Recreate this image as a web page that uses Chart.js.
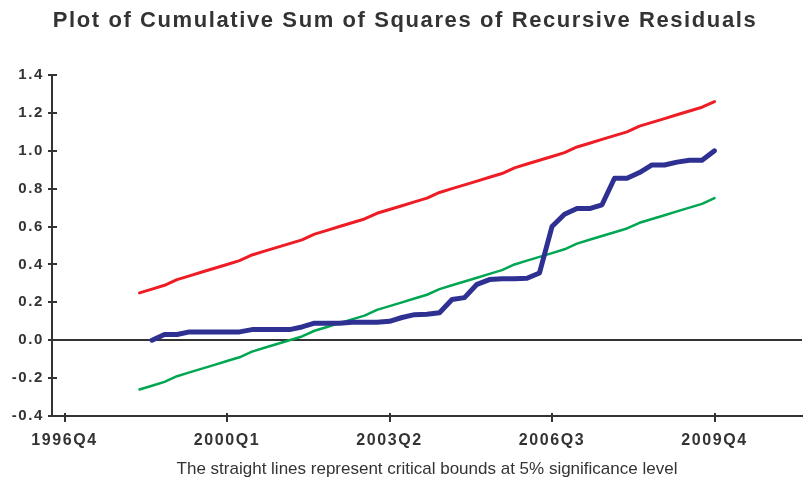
<!DOCTYPE html>
<html>
<head>
<meta charset="utf-8">
<script src="https://cdn.jsdelivr.net/npm/chart.js@4.4.1/dist/chart.umd.min.js"></script>
<style>
  html, body { margin: 0; padding: 0; background: #fff; overflow: hidden; }
  #wrap { width: 806px; height: 483px; position: relative; }
</style>
</head>
<body>
<div id="wrap"><canvas id="cusumsq"></canvas></div>
<script>
// ===== DATA =====
const quarters = [
  '1996Q3','1996Q4','1997Q1','1997Q2','1997Q3','1997Q4','1998Q1','1998Q2','1998Q3','1998Q4',
  '1999Q1','1999Q2','1999Q3','1999Q4','2000Q1','2000Q2','2000Q3','2000Q4','2001Q1','2001Q2',
  '2001Q3','2001Q4','2002Q1','2002Q2','2002Q3','2002Q4','2003Q1','2003Q2','2003Q3','2003Q4',
  '2004Q1','2004Q2','2004Q3','2004Q4','2005Q1','2005Q2','2005Q3','2005Q4','2006Q1','2006Q2',
  '2006Q3','2006Q4','2007Q1','2007Q2','2007Q3','2007Q4','2008Q1','2008Q2','2008Q3','2008Q4',
  '2009Q1','2009Q2','2009Q3','2009Q4','2010Q1','2010Q2','2010Q3','2010Q4','2011Q1','2011Q2',
  '2011Q3'
];
const tickLabels = ['1996Q4', '2000Q1', '2003Q2', '2006Q3', '2009Q4'];

// cusum of squares, from 1998Q3 to 2009Q4
const cusumStart = '1998Q3';
const cusumSq = [
  0.00, 0.03, 0.03, 0.044, 0.044, 0.044, 0.044, 0.044, 0.056, 0.056,
  0.056, 0.056, 0.07, 0.09, 0.09, 0.09, 0.095, 0.095, 0.095, 0.10,
  0.12, 0.135, 0.137, 0.145, 0.215, 0.225, 0.295, 0.32, 0.325, 0.325,
  0.327, 0.355, 0.60, 0.665, 0.695, 0.695, 0.715, 0.855, 0.855, 0.885,
  0.925, 0.925, 0.94, 0.95, 0.95, 1.00
];

// 5% critical bounds, from 1998Q2 to 2009Q4
const boundStart = '1998Q2';
const upperBound = [
  0.25, 0.27, 0.29, 0.32, 0.34, 0.36, 0.38, 0.40, 0.42, 0.45,
  0.47, 0.49, 0.51, 0.53, 0.56, 0.58, 0.60, 0.62, 0.64, 0.67,
  0.69, 0.71, 0.73, 0.75, 0.78, 0.80, 0.82, 0.84, 0.86, 0.88,
  0.91, 0.93, 0.95, 0.97, 0.99, 1.02, 1.04, 1.06, 1.08, 1.10,
  1.13, 1.15, 1.17, 1.19, 1.21, 1.23, 1.26
];
const lowerBound = [
  -0.26, -0.24, -0.22, -0.19, -0.17, -0.15, -0.13, -0.11, -0.09, -0.06,
  -0.04, -0.02, 0.00, 0.02, 0.05, 0.07, 0.09, 0.11, 0.13, 0.16,
  0.18, 0.20, 0.22, 0.24, 0.27, 0.29, 0.31, 0.33, 0.35, 0.37,
  0.40, 0.42, 0.44, 0.46, 0.48, 0.51, 0.53, 0.55, 0.57, 0.59,
  0.62, 0.64, 0.66, 0.68, 0.70, 0.72, 0.75
];

const toPoints = (start, vals) => {
  const i0 = quarters.indexOf(start);
  return vals.map((v, k) => ({ x: quarters[i0 + k], y: v }));
};

// ===== RENDERING =====
const textColor = '#333333';
const fontFamily = "'Liberation Sans', Arial, sans-serif";

// the original export uses slightly spaced-out bold lettering
const spacing = {
  id: 'spacing',
  beforeDraw(chart) {
    chart.ctx.letterSpacing = '1.6px';
    const x = chart.scales.x;
    if (!x._plainTitle) {
      const orig = x.drawTitle;
      x.drawTitle = function () {
        const prev = this.ctx.letterSpacing;
        this.ctx.letterSpacing = '0px';
        orig.call(this);
        this.ctx.letterSpacing = prev;
      };
      x._plainTitle = true;
    }
  },
  afterDraw(chart) {
    chart.ctx.letterSpacing = '0px';
  }
};

// small tick marks crossing the axis lines
const crossTicks = {
  id: 'crossTicks',
  afterDraw(chart) {
    const { ctx, chartArea, scales } = chart;
    ctx.save();
    ctx.strokeStyle = textColor;
    ctx.lineWidth = 2;
    ctx.beginPath();
    scales.y.ticks.forEach(t => {
      const y = Math.round(scales.y.getPixelForValue(t.value));
      ctx.moveTo(chartArea.left - 4, y);
      ctx.lineTo(chartArea.left + 5, y);
    });
    scales.x.ticks.forEach((t, i) => {
      if (!tickLabels.includes(quarters[t.value])) return;
      const x = Math.round(scales.x.getPixelForTick(i));
      ctx.moveTo(x, chartArea.bottom - 3);
      ctx.lineTo(x, chartArea.bottom + 6);
    });
    ctx.stroke();
    ctx.restore();
  }
};

new Chart(document.getElementById('cusumsq'), {
  type: 'line',
  data: {
    labels: quarters,
    datasets: [
      {
        label: 'Upper bound',
        data: toPoints(boundStart, upperBound),
        borderColor: '#ee1c24',
        borderWidth: 3,
        pointRadius: 0,
        tension: 0,
        borderJoinStyle: 'round',
        borderCapStyle: 'round'
      },
      {
        label: 'CUSUM of squares',
        data: toPoints(cusumStart, cusumSq),
        borderColor: '#2e3192',
        borderWidth: 5,
        pointRadius: 0,
        tension: 0,
        borderJoinStyle: 'round',
        borderCapStyle: 'round'
      },
      {
        label: 'Lower bound',
        data: toPoints(boundStart, lowerBound),
        borderColor: '#00a651',
        borderWidth: 2.5,
        pointRadius: 0,
        tension: 0,
        borderJoinStyle: 'round',
        borderCapStyle: 'round'
      }
    ]
  },
  options: {
    responsive: true,
    maintainAspectRatio: false,
    animation: false,
    layout: { autoPadding: false, padding: { top: 0, right: -4, left: 0, bottom: 0 } },
    scales: {
      x: {
        type: 'category',
        offset: false,
        grid: { display: false, drawTicks: false },
        border: { display: true, color: textColor, width: 2 },
        ticks: {
          autoSkip: false,
          maxRotation: 0,
          padding: 15,
          color: textColor,
          font: { family: fontFamily, size: 16, weight: 'bold' },
          callback: function (v) {
            const q = quarters[v];
            return tickLabels.includes(q) ? q : '';
          }
        },
        title: {
          display: true,
          text: 'The straight lines represent critical bounds at 5% significance level',
          color: textColor,
          font: { family: fontFamily, size: 17 },
          padding: { top: 2, bottom: 3 }
        },
        afterFit: s => {
          s.height = 67;
          s.paddingLeft = 0;
          s.paddingRight = 4;
        }
      },
      y: {
        min: -0.4,
        max: 1.4,
        grid: {
          drawTicks: false,
          lineWidth: 2,
          color: c => (Math.abs(c.tick.value) < 1e-9 ? textColor : 'rgba(0,0,0,0)')
        },
        border: { display: true, color: textColor, width: 2 },
        ticks: {
          stepSize: 0.1,
          padding: 8,
          color: textColor,
          font: { family: fontFamily, size: 15, weight: 'bold' },
          callback: v => {
            if (Math.abs(v) < 1e-9) return '0.0';
            return Math.round(v * 10) % 2 === 0 ? v.toFixed(1) : '';
          }
        },
        afterFit: s => { s.width = 52; }
      }
    },
    plugins: {
      legend: { display: false },
      tooltip: { enabled: false },
      title: {
        display: true,
        text: 'Plot of Cumulative Sum of Squares of Recursive Residuals',
        color: textColor,
        font: { family: fontFamily, size: 22, weight: 'bold' },
        padding: { top: 8, bottom: 40.6 }
      }
    }
  },
  plugins: [spacing, crossTicks]
});
</script>
</body>
</html>
